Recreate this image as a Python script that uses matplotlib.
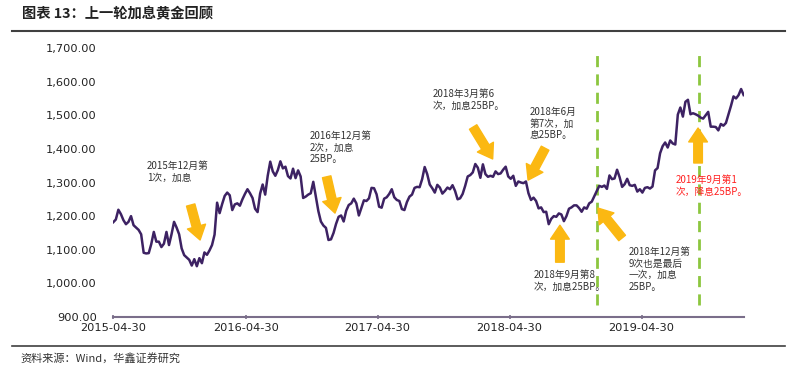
import numpy as np
import pandas as pd
import matplotlib
matplotlib.use("Agg")
import matplotlib.pyplot as plt

plt.rcParams['font.family'] = ['Noto Sans CJK SC', 'DejaVu Sans']

# 黄金价格（周度，美元/盎司），自2015-04-30起
gold_2015 = [1182, 1190, 1219, 1206, 1188, 1176, 1183, 1200, 1173, 1166, 1159, 1146,
             1091, 1089, 1090, 1117, 1153, 1124, 1124, 1108, 1118, 1153, 1114, 1146,
             1183, 1166, 1146, 1104, 1084, 1077, 1070, 1053, 1072, 1051, 1075, 1060]
gold_2016 = [1092, 1085, 1098, 1114, 1145, 1240, 1209, 1236, 1260, 1270, 1262, 1218,
             1235, 1238, 1231, 1250, 1266, 1280, 1268, 1254, 1222, 1212, 1267, 1294,
             1264, 1320, 1362, 1333, 1320, 1337, 1363, 1342, 1347, 1319, 1312, 1341,
             1313, 1336, 1318, 1254, 1258, 1264, 1268, 1302, 1259, 1215, 1184, 1172,
             1165, 1129, 1131, 1150]
gold_2017 = [1177, 1198, 1202, 1184, 1216, 1233, 1238, 1252, 1238, 1202, 1225, 1247,
             1245, 1253, 1284, 1283, 1265, 1228, 1225, 1252, 1256, 1266, 1280, 1256,
             1248, 1245, 1221, 1218, 1242, 1258, 1264, 1284, 1287, 1286, 1310, 1346,
             1325, 1294, 1283, 1270, 1293, 1285, 1267, 1275, 1285, 1280, 1292, 1275,
             1250, 1253, 1266, 1290]
gold_2018 = [1318, 1322, 1330, 1355, 1344, 1314, 1354, 1325, 1317, 1320, 1317, 1333,
             1325, 1327, 1338, 1347, 1318, 1311, 1320, 1290, 1303, 1300, 1298, 1303,
             1268, 1248, 1255, 1245, 1223, 1226, 1212, 1213, 1176, 1192, 1200, 1198,
             1208, 1205, 1185, 1200, 1222, 1226, 1232, 1232, 1224, 1213, 1226, 1222,
             1238, 1243, 1259, 1275]
gold_2019 = [1290, 1287, 1291, 1281, 1321, 1310, 1312, 1338, 1316, 1287, 1295, 1311,
             1292, 1290, 1293, 1273, 1280, 1270, 1284, 1286, 1282, 1288, 1336, 1343,
             1387, 1408, 1419, 1404, 1425, 1416, 1413, 1502, 1523, 1496, 1540, 1546,
             1503, 1506, 1503, 1499, 1493, 1490, 1500, 1510, 1466, 1466, 1465, 1455,
             1474, 1469, 1477, 1502]
gold_2020 = [1528, 1556, 1550, 1560, 1578, 1560]

gold = gold_2015 + gold_2016 + gold_2017 + gold_2018 + gold_2019 + gold_2020
dates = pd.date_range('2015-04-30', periods=len(gold), freq='7D')

tick_labels = ['2015-04-30', '2016-04-30', '2017-04-30', '2018-04-30', '2019-04-30']
y_ticks = [900, 1000, 1100, 1200, 1300, 1400, 1500, 1600, 1700]

# 政策节点（绿色虚线）
policy_dates = ['2018-12-28', '2019-10-06']

note_texts = ["2015年12月第\n1次，加息",
              "2016年12月第\n2次，加息\n25BP。",
              "2018年3月第6\n次，加息25BP。",
              "2018年6月\n第7次，加\n息25BP。",
              "2018年9月第8\n次，加息25BP。",
              "2018年12月第\n9次也是最后\n一次，加息\n25BP。",
              "2019年9月第1\n次，降息25BP。"]

# (文字位置, 箭头尾, 箭头头, 颜色)
note_layout = [
    (('2015-08-01', 1364), ('2015-11-30', 1233), ('2015-12-26', 1129), '#333333'),
    (('2016-10-23', 1453), ('2016-12-10', 1317), ('2017-01-02', 1209), '#333333'),
    (('2017-09-30', 1578), ('2018-01-19', 1465), ('2018-03-14', 1370), '#333333'),
    (('2018-06-25', 1524), ('2018-08-06', 1402), ('2018-06-20', 1307), '#333333'),
    (('2018-07-06', 1039), ('2018-09-16', 1063), ('2018-09-16', 1173), '#333333'),
    (('2019-03-26', 1108), ('2019-03-07', 1135), ('2018-12-30', 1224), '#333333'),
    (('2019-08-03', 1322), ('2019-10-03', 1358), ('2019-10-03', 1462), '#ff2020'),
]

fig = plt.figure(figsize=(8, 3.74), dpi=100)
ax = fig.add_axes([113.3 / 800, 57 / 374, (744 - 113.3) / 800, 269 / 374])

ax.plot(dates, gold, color='#3d2263', lw=1.8, zorder=3)

for d in policy_dates:
    ax.vlines(pd.Timestamp(d), 935, 1692, color='#8cc63f', lw=2.0,
              linestyles=(0, (4, 2.6)), zorder=2)

for txt, (tpos, tail, tip, col) in zip(note_texts, note_layout):
    ax.text(pd.Timestamp(tpos[0]), tpos[1], txt, fontsize=7.0, color=col,
            ha='left', va='top', linespacing=1.2, zorder=5)
    ax.annotate('', xy=(pd.Timestamp(tip[0]), tip[1]),
                xytext=(pd.Timestamp(tail[0]), tail[1]),
                arrowprops=dict(arrowstyle='simple,head_width=1.35,head_length=1.0,tail_width=0.62',
                                color='#fbb812', shrinkA=0, shrinkB=0,
                                mutation_scale=10), zorder=4)

ax.set_ylim(900, 1700)
ax.set_xlim(pd.Timestamp('2015-04-30'), pd.Timestamp('2020-02-07'))
ax.set_yticks(y_ticks)
ax.set_yticklabels([f'{v:,.2f}' for v in y_ticks], family='DejaVu Sans')
ax.set_xticks([pd.Timestamp(t) for t in tick_labels])
ax.set_xticklabels(tick_labels, family='DejaVu Sans')
ax.tick_params(axis='y', length=0, pad=12, labelsize=8.2, labelcolor='#222222')
ax.tick_params(axis='x', length=3, direction='inout', width=1.2, color='#7a6e8a',
               pad=2.5, labelsize=8.2, labelcolor='#222222')

for s in ['top', 'right', 'left']:
    ax.spines[s].set_visible(False)
ax.spines['bottom'].set_color('#7a6e8a')
ax.spines['bottom'].set_linewidth(1.5)

# 标题与来源
fig.text(22 / 800, 1 - 14 / 374, '图表 13：上一轮加息黄金回顾', fontsize=10.3,
         fontweight='bold', color='#222222', ha='left', va='center')
fig.add_artist(plt.Line2D([12 / 800, 785 / 800], [1 - 31 / 374, 1 - 31 / 374],
                          color='#404040', lw=1.5))
fig.add_artist(plt.Line2D([12 / 800, 785 / 800], [1 - 346 / 374, 1 - 346 / 374],
                          color='#404040', lw=1.2))
fig.text(20 / 800, 1 - 358 / 374, '资料来源：Wind，华鑫证券研究', fontsize=8,
         color='#333333', ha='left', va='center')

fig.savefig('out.png', dpi=100)
